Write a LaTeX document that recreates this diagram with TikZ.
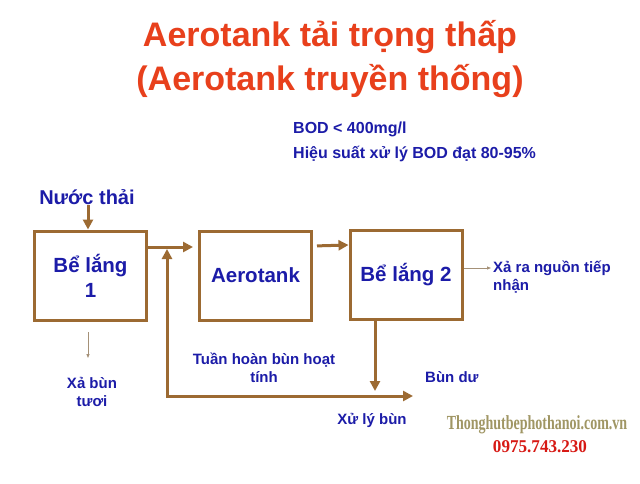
\documentclass[tikz,border=0pt]{standalone}
\usepackage{fontspec}
\setmainfont{Liberation Sans}
\newfontfamily\markfont{Liberation Serif}
\usepackage{tikz}
\usetikzlibrary{arrows.meta,positioning}

\definecolor{titlered}{RGB}{232,64,28}
\definecolor{textblue}{RGB}{28,28,168}
\definecolor{pipebrown}{RGB}{156,106,50}
\definecolor{thingrey}{RGB}{165,145,120}
\definecolor{markolive}{RGB}{160,150,100}
\definecolor{markred}{RGB}{215,25,20}

\begin{document}
\begin{tikzpicture}[
    x=1pt, y=-1pt,
    tank/.style={rectangle, draw=pipebrown, line width=3pt, minimum width=112pt, minimum height=89pt, align=center, text=textblue, font=\bfseries\fontsize{20.5}{25}\selectfont},
    note/.style={text=textblue, align=center, inner sep=0pt, font=\bfseries\fontsize{15}{18}\selectfont},
    arrow/.style={draw=pipebrown, line width=3pt, -{Triangle[length=10pt,width=10pt]}},
    thinarrow/.style={draw=thingrey, line width=0.8pt, -{Triangle[length=4pt,width=3pt]}}
]
    \useasboundingbox[fill=white] (0,0) rectangle (640,483);

    % heading
    \node[text=titlered, align=center, font=\bfseries\fontsize{34}{44}\selectfont] (head) at (330,59) {Aerotank tải trọng thấp\\(Aerotank truyền thống)};
    \node[note, anchor=west, align=left, font=\bfseries\fontsize{16}{25}\selectfont] (bod) at (293,142) {BOD < 400mg/l\\Hiệu suất xử lý BOD đạt 80-95\%};

    % tanks
    \node[tank] (settle1) at (90.5,275.5) {Bể lắng\\1};
    \node[tank] (aero) at (255.5,275.5) {Aerotank};
    \node[tank] (settle2) at (406,274.5) {Bể lắng 2};

    % labels
    \node[note, font=\bfseries\fontsize{20}{25}\selectfont] (inflow) at (87,197) {Nước thải};
    \node[note] (fresh) at (92,392) {Xả bùn\\tươi};
    \node[note] (recycle) at (264,368) {Tuần hoàn bùn hoạt\\tính};
    \node[note, anchor=west] (excess) at (425,377) {Bùn dư};
    \node[note] (treat) at (372,420) {Xử lý bùn};
    \node[note, anchor=west, align=left] (outlet) at (493,277) {Xả ra nguồn tiếp\\nhận};

    \coordinate (join) at (167,249);
    \coordinate (ret) at (167,396);
    \coordinate (sludge) at (413,396);
    \coordinate (waste) at (375,391);
    \coordinate (dischg) at (491,268);
    \coordinate (drain) at (88,332);
    \coordinate (drainend) at (88,358);

    % flows
    \draw[arrow] (inflow.south -| 88,0) -- (settle1.north -| 88,0);
    \draw[arrow, shorten >=5pt] ([yshift=28.5pt]settle1.east) -- ([yshift=28.5pt]aero.west);
    \draw[arrow, shorten <=4pt] ([yshift=29.5pt]aero.east) -- ([yshift=29.5pt]settle2.west);
    \draw[arrow, {Triangle[length=10pt,width=10pt]}-{Triangle[length=10pt,width=10pt]}] (join) -- (ret) -- (sludge);
    \draw[arrow] (settle2.south -| waste) -- (waste);
    \draw[thinarrow] ([yshift=6.5pt]settle2.east) -- (dischg);
    \draw[thinarrow] (drain) -- (drainend);

    % watermark
    \node[text=markolive, font=\markfont\bfseries\fontsize{20}{20}\selectfont] (site) at (537,425) {\scalebox{0.7}[1]{Thonghutbephothanoi.com.vn}};
    \node[text=markred, font=\markfont\bfseries\fontsize{18}{18}\selectfont] (phone) at (540,447) {\scalebox{0.95}[1]{0975.743.230}};
\end{tikzpicture}
\end{document}
